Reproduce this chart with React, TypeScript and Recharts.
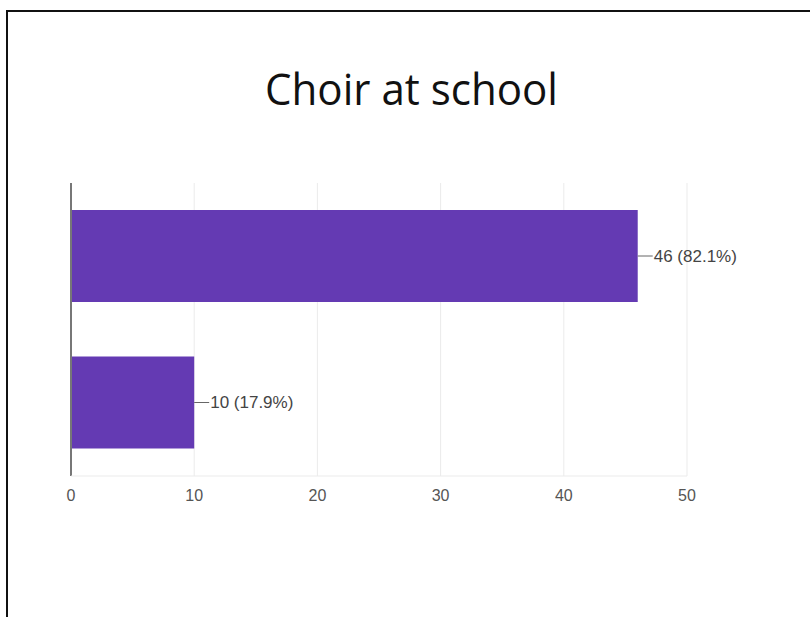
import { BarChart, Bar, XAxis, YAxis, CartesianGrid, LabelList, ReferenceLine } from 'recharts'

const categories = ['Yes', 'No']
const counts = [46, 10]
const percents = ['82.1%', '17.9%']
const xTicks = [0, 10, 20, 30, 40, 50]

const data = categories.map((name, i) => ({
  name,
  value: counts[i],
  label: `${counts[i]} (${percents[i]})`,
}))

const PURPLE = '#643AB3'

function BarLabel(props: any) {
  const { x, y, width, height, value } = props
  const x0 = x + width
  const cy = y + height / 2
  return (
    <g>
      <line x1={x0} y1={cy} x2={x0 + 15} y2={cy} stroke="#666" strokeWidth={1} />
      <text
        x={x0 + 16}
        y={cy}
        dy="0.35em"
        fontSize={17}
        fontFamily="'Liberation Sans', Arial, sans-serif"
        fill="#444"
      >
        {value}
      </text>
    </g>
  )
}

export default function App() {
  return (
    <div style={{ position: 'absolute', left: 0, top: 0, width: 810, height: 617, background: '#fff', overflow: 'hidden' }}>
      <div
        style={{
          position: 'absolute',
          left: 6,
          top: 10,
          width: 820,
          height: 620,
          borderTop: '2px solid #111',
          borderLeft: '2px solid #111',
        }}
      />
      <svg width={810} height={140} style={{ position: 'absolute', left: 0, top: 0 }}>
        <text
          x={411.5}
          y={105}
          textAnchor="middle"
          fontSize={44}
          fontFamily="'Open Sans', sans-serif"
          fill="#111"
          textLength={293}
          lengthAdjust="spacingAndGlyphs"
        >
          Choir at school
        </text>
      </svg>
      <div style={{ position: 'absolute', left: 0, top: 0 }}>
        <BarChart
          width={810}
          height={617}
          data={data}
          layout="vertical"
          margin={{ top: 183, right: 123, bottom: 111, left: 71 }}
        >
          <CartesianGrid horizontal={false} stroke="#ebebeb" />
          <XAxis
            type="number"
            domain={[0, 50]}
            ticks={xTicks}
            axisLine={{ stroke: '#ebebeb' }}
            tickLine={false}
            tickMargin={8}
            tick={{ fill: '#555', fontSize: 16, fontFamily: "'Liberation Sans', Arial, sans-serif" }}
          />
          <YAxis type="category" dataKey="name" hide />
          <Bar dataKey="value" fill={PURPLE} barSize={92} isAnimationActive={false}>
            <LabelList dataKey="label" content={BarLabel} />
          </Bar>
          <ReferenceLine x={0} stroke="#777" strokeWidth={2} ifOverflow="extendDomain" />
        </BarChart>
      </div>
    </div>
  )
}
